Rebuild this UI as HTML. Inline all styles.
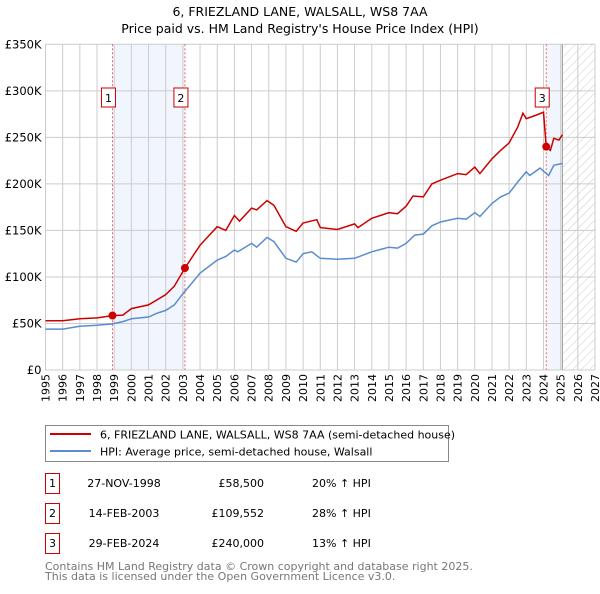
<!DOCTYPE html>
<html><head><meta charset="utf-8"><style>
body{margin:0;background:#fff;font-family:"DejaVu Sans","Liberation Sans",sans-serif;}
svg text{font-family:"DejaVu Sans","Liberation Sans",sans-serif;}
</style></head><body>
<svg id="c" width="600" height="590" xmlns="http://www.w3.org/2000/svg">
<defs><pattern id="hatch" width="6" height="6" patternUnits="userSpaceOnUse" patternTransform="rotate(45)"><line x1="0" y1="0" x2="0" y2="6" stroke="#ccc" stroke-width="1"/></pattern></defs>
<text x="300" y="16" text-anchor="middle" font-size="12.5">6, FRIEZLAND LANE, WALSALL, WS8 7AA</text>
<text x="300" y="33" text-anchor="middle" font-size="12.5">Price paid vs. HM Land Registry's House Price Index (HPI)</text>
<g id="plot"></g>
<g>
<rect x="45.5" y="425.5" width="403" height="36" fill="#fff" stroke="#888"/>
<line x1="50" y1="434" x2="91" y2="434" stroke="#cc0000" stroke-width="2"/>
<text x="100" y="438.5" font-size="11">6, FRIEZLAND LANE, WALSALL, WS8 7AA (semi-detached house)</text>
<line x1="50" y1="451" x2="91" y2="451" stroke="#5b8cce" stroke-width="2"/>
<text x="100" y="455.5" font-size="11">HPI: Average price, semi-detached house, Walsall</text>
</g>
<g id="table" font-size="11"></g>
<text x="45" y="570" font-size="11" fill="#777">Contains HM Land Registry data © Crown copyright and database right 2025.</text>
<text x="45" y="580" font-size="11" fill="#777">This data is licensed under the Open Government Licence v3.0.</text>
</svg>
<script>
const yTicks=[0,50,100,150,200,250,300,350];
const yTickLabels=["£0","£50K","£100K","£150K","£200K","£250K","£300K","£350K"];
const xYears=[1995,1996,1997,1998,1999,2000,2001,2002,2003,2004,2005,2006,2007,2008,2009,2010,2011,2012,2013,2014,2015,2016,2017,2018,2019,2020,2021,2022,2023,2024,2025,2026,2027];
const hpiT=[1995,1996,1997,1998,1998.9,1999.5,2000,2001,2001.5,2002,2002.5,2003,2003.5,2004,2005,2005.5,2006,2006.2,2007,2007.3,2007.9,2008.3,2009,2009.6,2010,2010.5,2011,2012,2013,2014,2015,2015.5,2016,2016.5,2017,2017.5,2018,2019,2019.5,2020,2020.3,2021,2021.5,2022,2022.5,2023,2023.2,2023.8,2024.3,2024.6,2025.1];
const hpiV=[44,44,47,48,49.5,52,55,57,61,64,70,82,93,104,118,122,129,127,136,132,142.5,138,120,116,125,127,120,119,120,127,132,131,136,145,146,155,159,163,162,169,165,179,186,190,202,213,209,217,209,220,222];
const priceT=[1995,1996,1997,1998,1998.9,1999.5,2000,2001,2002,2002.5,2003.12,2004,2005,2005.5,2006,2006.3,2007,2007.3,2007.9,2008.3,2009,2009.6,2010,2010.8,2011,2012,2013,2013.2,2014,2015,2015.5,2016,2016.4,2017,2017.5,2018,2019,2019.5,2020,2020.3,2021,2021.5,2022,2022.5,2022.8,2023,2023.6,2024.0,2024.16,2024.4,2024.6,2024.9,2025.1];
const priceV=[53,53,55,56,58.5,59,66,70,81,90,109.552,134,154,150,166,160,174,172,182,177,154,149,158,161.5,153,151,157,153,163,169,168,176,187,186,200,204,211,210,218,211,227,236,244,261,276,270,274,277,240,236,249,247,253];
const saleT=[1998.9,2003.12,2024.16];
const saleV=[58.5,109.552,240];
const saleLabels=["1","2","3"];
const saleDates=["27-NOV-1998","14-FEB-2003","29-FEB-2024"];
const salePrices=["£58,500","£109,552","£240,000"];
const saleHpi=["20% ↑ HPI","28% ↑ HPI","13% ↑ HPI"];
const dataEnd=2025.1;

const X0=45.5,X1=595,Y0=370,Y1=44.3;
const x=t=>X0+(t-1995)/(2027-1995)*(X1-X0);
const y=v=>Y0-v/350*(Y0-Y1);
const NS="http://www.w3.org/2000/svg";
const plot=document.getElementById('plot');
function mk(tag,at,parent){const e=document.createElementNS(NS,tag);for(const k in at)e.setAttribute(k,at[k]);(parent||plot).appendChild(e);return e;}

let r=mk('rect',{x:x(saleT[0]),y:Y1,width:x(saleT[1])-x(saleT[0]),height:Y0-Y1,fill:'#eef3fc',opacity:0.8});


r=mk('rect',{x:x(saleT[2]),y:Y1,width:x(dataEnd)-x(saleT[2]),height:Y0-Y1,fill:'#eef3fc',opacity:0.8});


r=mk('rect',{x:x(dataEnd),y:Y1,width:X1-x(dataEnd),height:Y0-Y1,fill:'url(#hatch)'});



xYears.forEach(t=>{const l=mk('line',{x1:x(t),x2:x(t),y1:Y1,y2:Y0,stroke:'#ccc','stroke-width':1});


const tx=mk('text',{x:0,y:0,'font-size':11,'text-anchor':'end',transform:`translate(${x(t)+4},${Y0+4}) rotate(-90)`});tx.textContent=t;

});
yTicks.forEach((v,i)=>{const l=mk('line',{x1:X0,x2:X1,y1:y(v),y2:y(v),stroke:'#ccc','stroke-width':1});


const tx=mk('text',{x:X0-4,y:y(v)+4,'font-size':11.5,'text-anchor':'end'});tx.textContent=yTickLabels[i];

});
const dl=mk('line',{x1:x(dataEnd),x2:x(dataEnd),y1:Y1,y2:Y0,stroke:'#999','stroke-width':1});



saleT.forEach((t,i)=>{const l=mk('line',{x1:x(t),x2:x(t),y1:Y1,y2:Y0,stroke:'#e66','stroke-width':1,'stroke-dasharray':'2,2'});

});

const path=(T,V)=>T.map((t,i)=>(i?'L':'M')+x(t).toFixed(1)+','+y(V[i]).toFixed(1)).join(' ');
let p=mk('path',{d:path(hpiT,hpiV),fill:'none',stroke:'#5b8cce','stroke-width':1.5});


p=mk('path',{d:path(priceT,priceV),fill:'none',stroke:'#cc0000','stroke-width':1.5});



saleT.forEach((t,i)=>{const c=mk('circle',{cx:x(t),cy:y(saleV[i]),r:4,fill:'#cc0000'});


const g=mk('g',{});


mk('rect',{x:x(t)-11,y:88,width:14,height:19,fill:'#fff',stroke:'#cc0000','stroke-width':1},g);
const tx=mk('text',{x:x(t)-4,y:102,'font-size':11,'text-anchor':'middle'},g);tx.textContent=saleLabels[i];});

const tb=document.getElementById('table');
saleT.forEach((t,i)=>{const yy=483+i*30;
const g=mk('g',{},tb);


mk('rect',{x:45.5,y:yy-9.5,width:14,height:20,fill:'#fff',stroke:'#cc0000'},g);
let a=mk('text',{x:52.5,y:yy+4,'text-anchor':'middle'},g);a.textContent=saleLabels[i];
a=mk('text',{x:124,y:yy+4,'text-anchor':'middle'},g);a.textContent=saleDates[i];
a=mk('text',{x:264,y:yy+4,'text-anchor':'end'},g);a.textContent=salePrices[i];
a=mk('text',{x:312,y:yy+4},g);a.textContent=saleHpi[i];});
</script>
</body></html>
